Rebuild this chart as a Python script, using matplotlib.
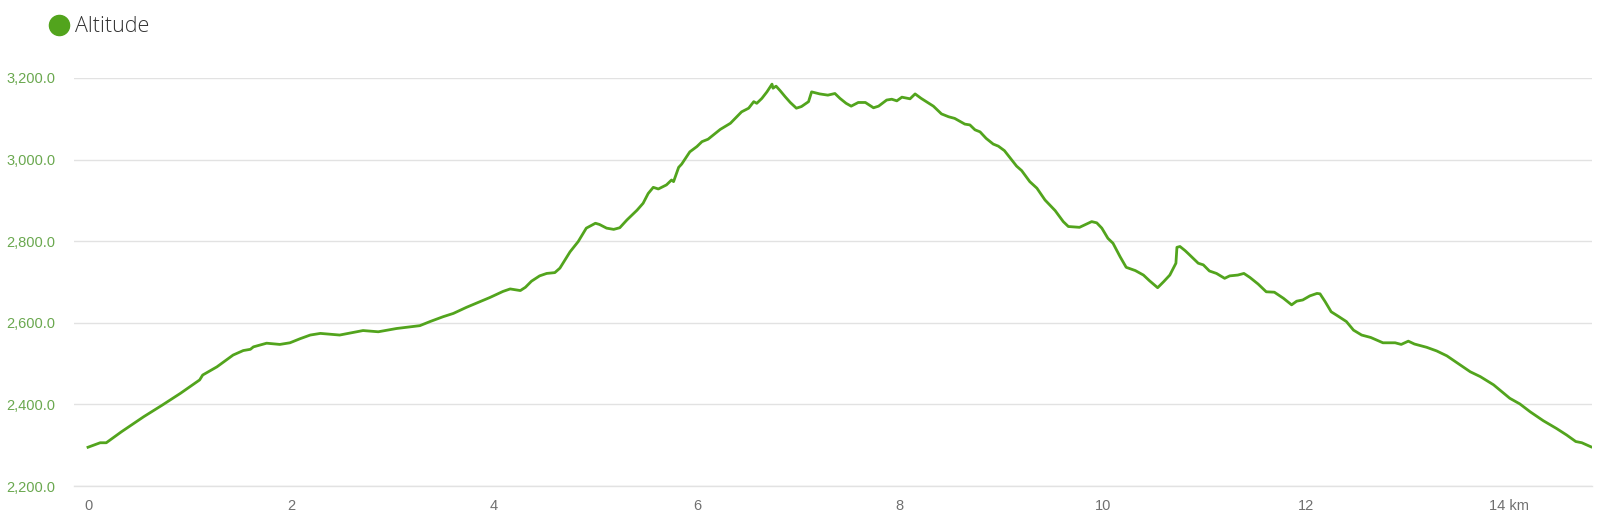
"""Altitude profile of a ~14.8 km hike, drawn as a single line chart."""

import matplotlib
matplotlib.use("Agg")
import matplotlib.pyplot as plt
from matplotlib.lines import Line2D
from matplotlib.ticker import FuncFormatter

# distance along the track (km) and altitude (m)
distance_km = [
    0.00, 0.12, 0.18, 0.33, 0.55, 0.73, 0.91, 1.10, 1.13, 1.27, 1.43, 1.53,
    1.60, 1.63, 1.76, 1.89, 1.99, 2.09, 2.19, 2.29, 2.48, 2.71, 2.86, 3.04,
    3.27, 3.37, 3.50, 3.60, 3.73, 3.96, 4.09, 4.16, 4.26, 4.31, 4.37, 4.45,
    4.52, 4.60, 4.65, 4.75, 4.83, 4.91, 5.00, 5.04, 5.11, 5.18, 5.24, 5.31,
    5.41, 5.47, 5.52, 5.57, 5.62, 5.70, 5.75, 5.77, 5.82, 5.85, 5.93, 6.00,
    6.05, 6.11, 6.23, 6.33, 6.44, 6.51, 6.56, 6.59, 6.64, 6.69, 6.74, 6.75,
    6.78, 6.82, 6.87, 6.92, 6.98, 7.03, 7.10, 7.13, 7.21, 7.29, 7.36, 7.41,
    7.47, 7.52, 7.59, 7.66, 7.74, 7.79, 7.87, 7.92, 7.97, 8.02, 8.10, 8.15,
    8.21, 8.26, 8.33, 8.41, 8.48, 8.54, 8.64, 8.69, 8.74, 8.79, 8.85, 8.92,
    8.97, 9.03, 9.08, 9.15, 9.20, 9.28, 9.35, 9.43, 9.53, 9.61, 9.66, 9.77,
    9.84, 9.89, 9.94, 9.99, 10.05, 10.10, 10.17, 10.23, 10.32, 10.40, 10.46,
    10.54, 10.60, 10.66, 10.72, 10.73, 10.76, 10.81, 10.84, 10.94, 10.99,
    11.05, 11.12, 11.20, 11.25, 11.33, 11.39, 11.45, 11.53, 11.61, 11.69,
    11.78, 11.86, 11.91, 11.97, 12.04, 12.11, 12.14, 12.19, 12.25, 12.32,
    12.40, 12.47, 12.55, 12.64, 12.76, 12.88, 12.94, 13.01, 13.07, 13.19,
    13.29, 13.39, 13.52, 13.62, 13.72, 13.85, 14.01, 14.11, 14.21, 14.34,
    14.47, 14.57, 14.66, 14.72, 14.81,
]
altitude_m = [
    2295, 2306, 2306, 2333, 2370, 2398, 2427, 2460, 2472, 2492, 2521, 2532,
    2535, 2541, 2550, 2547, 2551, 2561, 2570, 2574, 2570, 2581, 2578, 2586,
    2593, 2603, 2615, 2623, 2638, 2662, 2677, 2683, 2679, 2687, 2702, 2715,
    2721, 2723, 2734, 2774, 2799, 2832, 2844, 2841, 2832, 2829, 2833, 2852,
    2876, 2893, 2917, 2932, 2928, 2938, 2950, 2946, 2981, 2989, 3019, 3032,
    3044, 3050, 3074, 3089, 3117, 3126, 3142, 3138, 3150, 3166, 3185, 3175,
    3180, 3169, 3154, 3140, 3126, 3130, 3142, 3166, 3161, 3158, 3162, 3150,
    3138, 3131, 3140, 3140, 3127, 3131, 3146, 3148, 3144, 3153, 3149, 3161,
    3150, 3142, 3131, 3112, 3105, 3101, 3087, 3085, 3073, 3068, 3052, 3038,
    3033, 3022, 3006, 2984, 2973, 2946, 2930, 2901, 2875, 2848, 2836, 2834,
    2842, 2848, 2845, 2832, 2807, 2795, 2762, 2736, 2728, 2717, 2703,
    2686, 2701, 2717, 2746, 2785, 2787, 2777, 2770, 2746, 2742,
    2727, 2721, 2709, 2715, 2717, 2721, 2711, 2695, 2676, 2675,
    2660, 2644, 2653, 2656, 2666, 2672, 2671, 2652, 2627, 2616,
    2603, 2582, 2570, 2564, 2551, 2551, 2547, 2555, 2548, 2540,
    2531, 2519, 2497, 2480, 2468, 2448, 2415, 2401, 2382, 2360,
    2341, 2325, 2309, 2306, 2296,
]

x_ticks = [0, 2, 4, 6, 8, 10, 12, 14]
x_tick_labels = ["0", "2", "4", "6", "8", "10", "12", "14 km"]
y_ticks = [2200, 2400, 2600, 2800, 3000, 3200]

GREEN = "#52a41d"
GRID = "#e2e2e2"

W, H = 1601, 525
fig = plt.figure(figsize=(W / 100, H / 100), dpi=100)
# axes box in pixels: x 74..1592, y 78..486
ax = fig.add_axes([74 / W, 1 - 486 / H, (1592 - 74) / W, (486 - 78) / H])

ax.plot(distance_km, altitude_m, color=GREEN, lw=2.0, solid_joinstyle="round")

ax.set_xlim(-0.138, 14.82)
ax.set_ylim(2200, 3200)
ax.set_xticks(x_ticks)
ax.set_xticklabels(x_tick_labels)
ax.set_yticks(y_ticks)
ax.yaxis.set_major_formatter(FuncFormatter(lambda v, _: f"{v:,.1f}"))

ax.grid(axis="y", color=GRID, lw=1)
ax.set_axisbelow(True)
for side in ("top", "right", "left"):
    ax.spines[side].set_visible(False)
ax.spines["bottom"].set_color(GRID)
ax.spines["bottom"].set_linewidth(1)

# pads are in points (1 px = 0.72 pt at 100 dpi)
ax.tick_params(axis="y", length=0, pad=13.5, labelsize=10.5, labelcolor="#6aa84f")
ax.tick_params(axis="x", length=0, pad=9, labelsize=10.5, labelcolor="#707070")
for lbl in ax.get_xticklabels() + ax.get_yticklabels():
    lbl.set_fontfamily("Liberation Sans")

# legend: green dot + "Altitude"
fig.add_artist(Line2D([59 / W], [1 - 25 / H], marker="o", ms=14.5, color=GREEN,
                      transform=fig.transFigure))
fig.text(75 / W, 1 - 27 / H, "Altitude", ha="left", va="center", fontsize=15.5,
         color="#333333", family="Open Sans", fontweight="light")

fig.savefig("out.png", dpi=100)
